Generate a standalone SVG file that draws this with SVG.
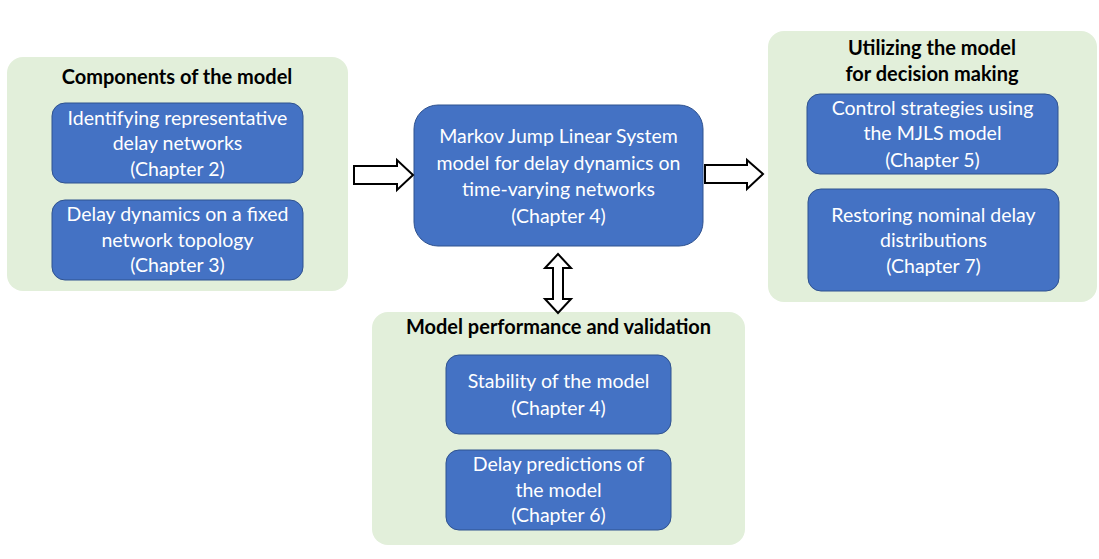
<svg xmlns="http://www.w3.org/2000/svg" width="1099" height="559" viewBox="0 0 1099 559">
<style>
.group{fill:#E2EFDA;stroke:none}
.box{fill:#4472C4;stroke:#2F528F;stroke-width:1}
.t{font-family:Lato,"Liberation Sans",sans-serif;font-size:19.5px;fill:#FFFFFF;text-anchor:middle}
.h{font-family:Lato,"Liberation Sans",sans-serif;font-size:20px;font-weight:bold;fill:#000000;text-anchor:middle}
.arrow{fill:#FFFFFF;stroke:#000000;stroke-width:2;stroke-linejoin:miter}
</style>
<rect width="1099" height="559" fill="#FFFFFF"/>
<g id="components">
<rect class="group" x="7" y="57" width="341" height="234" rx="16"/>
<text class="h" x="177" y="84">Components of the model</text>
</g>
<g id="ch2">
<rect class="box" x="52" y="103" width="251" height="80" rx="13"/>
<text class="t" x="177.5" y="125">Identifying representative</text>
<text class="t" x="177.5" y="150">delay networks</text>
<text class="t" x="177.5" y="176">(Chapter 2)</text>
</g>
<g id="ch3">
<rect class="box" x="52" y="200" width="251" height="80" rx="13"/>
<text class="t" x="177.5" y="221">Delay dynamics on a fixed</text>
<text class="t" x="177.5" y="247">network topology</text>
<text class="t" x="177.5" y="272">(Chapter 3)</text>
</g>
<g id="mjls">
<rect class="box" x="414" y="105" width="289" height="141" rx="24"/>
<text class="t" x="558.5" y="143">Markov Jump Linear System</text>
<text class="t" x="558.5" y="170">model for delay dynamics on</text>
<text class="t" x="558.5" y="196">time-varying networks</text>
<text class="t" x="558.5" y="223">(Chapter 4)</text>
</g>
<g id="utilizing">
<rect class="group" x="768" y="31" width="329" height="271" rx="16"/>
<text class="h" x="932" y="55">Utilizing the model</text>
<text class="h" x="932" y="81">for decision making</text>
</g>
<g id="ch5">
<rect class="box" x="807" y="94" width="251" height="80" rx="13"/>
<text class="t" x="932.5" y="115">Control strategies using</text>
<text class="t" x="932.5" y="140">the MJLS model</text>
<text class="t" x="932.5" y="167">(Chapter 5)</text>
</g>
<g id="ch7">
<rect class="box" x="808" y="189" width="251" height="102" rx="13"/>
<text class="t" x="933.5" y="222">Restoring nominal delay</text>
<text class="t" x="933.5" y="247">distributions</text>
<text class="t" x="933.5" y="273">(Chapter 7)</text>
</g>
<g id="validation">
<rect class="group" x="372" y="312" width="373" height="233" rx="16"/>
<text class="h" x="558.5" y="334">Model performance and validation</text>
</g>
<g id="stability">
<rect class="box" x="446" y="355" width="225" height="79" rx="13"/>
<text class="t" x="558.5" y="388">Stability of the model</text>
<text class="t" x="558.5" y="415">(Chapter 4)</text>
</g>
<g id="ch6">
<rect class="box" x="446" y="450" width="225" height="80" rx="13"/>
<text class="t" x="558.5" y="471">Delay predictions of</text>
<text class="t" x="558.5" y="497">the model</text>
<text class="t" x="558.5" y="522">(Chapter 6)</text>
</g>
<g id="connectors">
<polygon class="arrow" points="354,166 397,166 397,160 413,175 397,190 397,184 354,184"/>
<polygon class="arrow" points="705,165 747,165 747,160 763,174 747,189 747,183 705,183"/>
<polygon class="arrow" points="558,254 571,268 563,268 563,299 571,299 558,313 545,299 553,299 553,268 545,268"/>
</g>
</svg>
